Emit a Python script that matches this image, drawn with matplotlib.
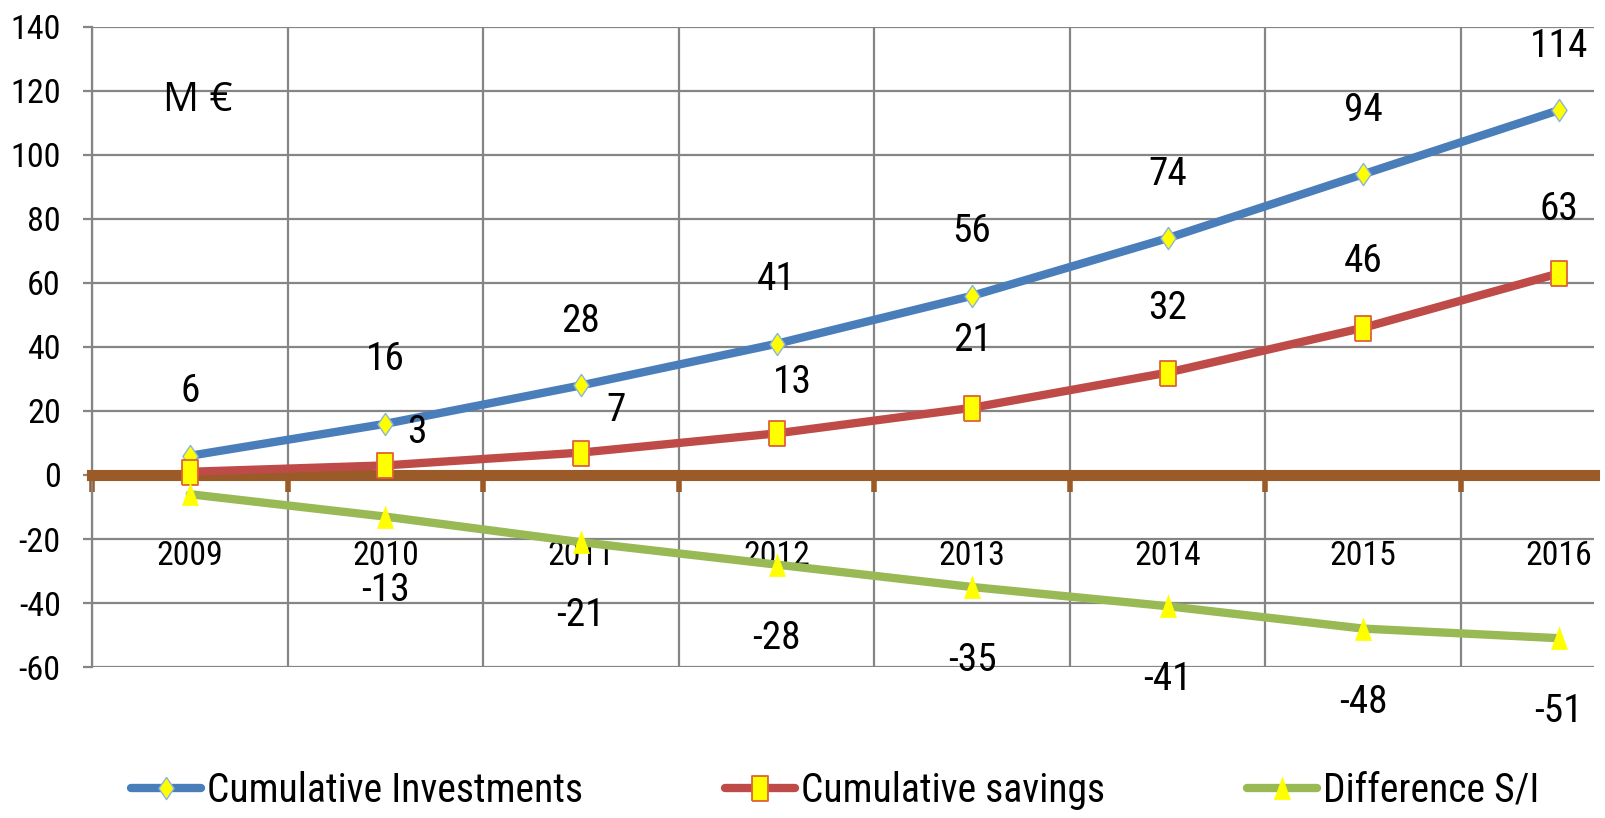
import matplotlib
matplotlib.use("Agg")
import matplotlib.pyplot as plt
from matplotlib import font_manager as fm
from matplotlib.textpath import TextPath
from matplotlib.ticker import FixedLocator, NullFormatter

# ---------------- data ----------------
years = ['2009', '2010', '2011', '2012', '2013', '2014', '2015', '2016']
investments = [6, 16, 28, 41, 56, 74, 94, 114]
savings = [1, 3, 7, 13, 21, 32, 46, 63]
difference = [-6, -13, -21, -28, -35, -41, -48, -51]
series_names = ['Cumulative Investments', 'Cumulative savings', 'Difference S/I']
y_ticks = [-60, -40, -20, 0, 20, 40, 60, 80, 100, 120, 140]
unit_label = 'M €'

# ---------------- font choice (a narrow face if one is installed) ----------------
prefs = ['liberation sans narrow', 'arial narrow', 'roboto condensed',
         'dejavu sans condensed', 'noto sans condensed', 'open sans condensed']
bad = ['bold', 'italic', 'oblique', 'light', 'thin', 'medium', 'black', 'semi', 'extra']
found = {}
for f in fm.fontManager.ttflist:
    n = f.name.lower()
    base = f.fname.lower().split('/')[-1]
    if any(b in base for b in bad):
        continue
    key = None
    if ('narrow' in n or 'condensed' in n):
        key = n
    elif 'condensed' in base or 'narrow' in base:
        key = n + ' condensed' if 'condensed' in base else n + ' narrow'
    if key and key not in found:
        found[key] = f.fname
font_file = None
for p in prefs:
    if p in found:
        font_file = found[p]
        break
if font_file is None and found:
    font_file = sorted(found.values())[0]
if font_file:
    FP = fm.FontProperties(fname=font_file)
else:
    FP = fm.FontProperties(family='Liberation Sans')


def fit(text, target_px):
    """font size (pt) giving the text the target width in pixels at 100 dpi"""
    w = TextPath((0, 0), text, size=100, prop=FP).get_extents().width  # in pt at size 100
    return target_px * 72 / w


tick_fs = fit('2009', 63)
ytick_fs = fit('140', 46)
lab_fs = fit('114', 54)
leg_fs = fit('Cumulative savings', 300)

# ---------------- layout / style ----------------
W, H = 1606, 818
fig = plt.figure(figsize=(W / 100, H / 100), dpi=100)
ax = fig.add_axes([92 / W, 1 - 667 / H, (1594 - 92) / W, (667 - 27) / H])

x = list(range(len(years)))
ax.set_xlim(-0.5, 7.18)
ax.set_ylim(-60, 140)

grid_col = '#858585'
brown = '#9A5B28'
blue = '#4A7EBB'
red = '#BE4B48'
green = '#98B954'
yellow = '#FFFF00'

diamond = [(0, 1), (0.68, 0), (0, -1), (-0.68, 0), (0, 1)]
rect = [(-0.62, -1), (0.62, -1), (0.62, 1), (-0.62, 1), (-0.62, -1)]
tri = [(0, 1), (0.72, -1), (-0.72, -1), (0, 1)]

ax.plot(x, investments, color=blue, lw=6, marker=diamond, ms=16,
        mfc=yellow, mec='#8fb3d9', mew=1, zorder=4, label=series_names[0],
        solid_capstyle='round')
ax.plot(x, savings, color=red, lw=6, marker=rect, ms=18,
        mfc=yellow, mec='#E2603A', mew=1.3, zorder=4, label=series_names[1],
        solid_capstyle='round')
ax.plot(x, difference, color=green, lw=6, marker=tri, ms=16,
        mfc=yellow, mec=yellow, mew=0.5, zorder=4, label=series_names[2],
        solid_capstyle='round')

# data labels
inv_dy = 20
sav_dx = [0, 0.16, 0.18, 0.08, 0, 0, 0, 0]
sav_dy = [20, 10.4, 13.3, 16, 21, 20, 20.6, 20]
dif_dy = -23
for i, v in enumerate(investments):
    ax.text(x[i], v + inv_dy, str(v), ha='center', va='center', fontsize=lab_fs,
            fontproperties=FP, zorder=6)
for i, v in enumerate(savings):
    if i == 0:
        continue
    ax.text(x[i] + sav_dx[i], v + sav_dy[i], str(v), ha='center', va='center',
            fontsize=lab_fs, fontproperties=FP, zorder=6)
for i, v in enumerate(difference):
    if i == 0:
        continue
    ax.text(x[i], v + dif_dy, str(v), ha='center', va='center', fontsize=lab_fs,
            fontproperties=FP, zorder=6)

ax.text(0.04, 117, unit_label, ha='center', va='center', fontsize=29,
        family=['Open Sans', 'DejaVu Sans'])

# axes and grid
for s in ['top', 'right']:
    ax.spines[s].set_visible(False)
ax.spines['left'].set_color(grid_col)
ax.spines['left'].set_linewidth(1.6)
ax.spines['bottom'].set_position(('data', 0))
ax.spines['bottom'].set_color(brown)
ax.spines['bottom'].set_linewidth(8)
ax.spines['bottom'].set_zorder(3)

ax.set_yticks(y_ticks)
ax.set_yticklabels([str(t) for t in y_ticks])
ax.tick_params(axis='y', which='major', length=6.5, width=1.6, color=grid_col, pad=16)
for t in ax.get_yticklabels():
    t.set_fontproperties(FP)
    t.set_fontsize(ytick_fs)
ax.yaxis.grid(True, color=grid_col, lw=1.6, zorder=0)

ax.set_xticks(x)
ax.set_xticklabels(years)
ax.tick_params(axis='x', which='major', length=0, pad=47)
for t in ax.get_xticklabels():
    t.set_fontproperties(FP)
    t.set_fontsize(tick_fs)
ax.xaxis.set_minor_locator(FixedLocator([i - 0.5 for i in range(len(years))]))
ax.xaxis.set_minor_formatter(NullFormatter())
ax.tick_params(axis='x', which='minor', length=12, width=4, color=brown, direction='out')
ax.xaxis.grid(True, which='minor', color=grid_col, lw=1.6, zorder=0)
ax.set_axisbelow(True)

leg_prop = FP.copy()
leg_prop.set_size(leg_fs)
leg = fig.legend(loc='center', bbox_to_anchor=(0.52, 1 - 790 / H), ncol=3,
                 frameon=False, prop=leg_prop, handlelength=1.75, handletextpad=0.15,
                 columnspacing=3.6)

fig.savefig('out.png', dpi=100)
